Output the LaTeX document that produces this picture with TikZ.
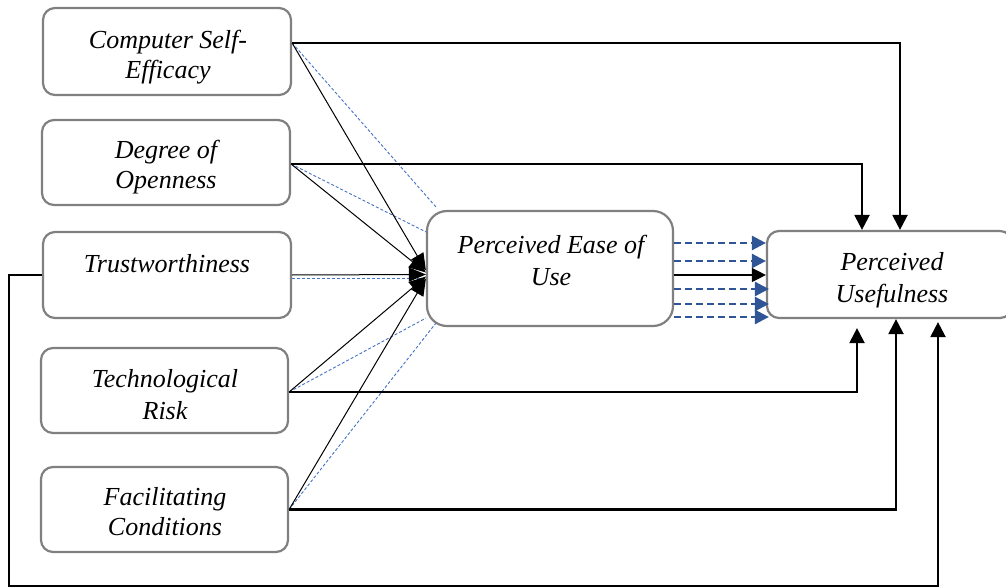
\documentclass[tikz,border=0pt]{standalone}
\usepackage{fontspec}
\setmainfont{Liberation Serif}
\usetikzlibrary{arrows.meta}
\definecolor{boxgray}{HTML}{808080}
\definecolor{thinblue}{HTML}{4472C4}
\definecolor{darkblue}{HTML}{2F5597}
\begin{document}
\begin{tikzpicture}[x=1pt,y=-1pt,
  box/.style={draw=boxgray, line width=2.2pt, rounded corners=12pt, fill=white, inner sep=0pt},
  bigbox/.style={box, rounded corners=20pt},
  txt/.style={font=\fontsize{26}{30}\selectfont\itshape, inner sep=0pt, anchor=base},
  conn/.style={draw=black, line width=2.2pt, -{Triangle[length=15pt,width=15pt]}},
  thin/.style={draw=black, line width=1pt, -{Triangle[length=17pt,width=14pt]}},
  bdash/.style={draw=thinblue, line width=0.9pt, dash pattern=on 3pt off 2pt},
  thick/.style={draw=darkblue, line width=2.6pt, dash pattern=on 7pt off 4pt, -{Triangle[length=14pt,width=14pt]}},
  blackarr/.style={draw=black, line width=1.3pt, -{Triangle[length=14pt,width=14pt]}}
]
\useasboundingbox (0,0) rectangle (1006,588);

% boxes
\node[box, minimum width=248pt, minimum height=87pt] (cse) at (167,51.5) {};
\node[box, minimum width=248pt, minimum height=85pt] (doo) at (166,162.5) {};
\node[box, minimum width=248pt, minimum height=86pt] (tru) at (167,275) {};
\node[box, minimum width=247pt, minimum height=85pt] (tr) at (164.5,390.5) {};
\node[box, minimum width=247pt, minimum height=85pt] (fc) at (164.5,509.5) {};
\node[bigbox, minimum width=246pt, minimum height=115pt] (peou) at (550,268.5) {};
\node[box, minimum width=245pt, minimum height=87pt] (pu) at (889.5,274.5) {};

% texts
\node[txt] (cse1) at (168,49) {Computer Self-};
\node[txt] (cse2) at (168,79) {Efficacy};
\node[txt] (doo1) at (166,159) {Degree of};
\node[txt] (doo2) at (166,189) {Openness};
\node[txt] (tru1) at (167,272) {Trustworthiness};
\node[txt] (tr1) at (165,387) {Technological};
\node[txt] (tr2) at (165,419) {Risk};
\node[txt] (fc1) at (165,505) {Facilitating};
\node[txt] (fc2) at (165,535) {Conditions};
\node[txt] (pe1) at (551,253) {Perceived Ease of};
\node[txt] (pe2) at (551,285) {Use};
\node[txt] (pu1) at (892,270) {Perceived};
\node[txt] (pu2) at (892,302) {Usefulness};

% start points
\coordinate (s1) at ([yshift=8.5pt]cse.east);
\coordinate (s2) at ([yshift=-1.5pt]doo.east);
\coordinate (s3) at (tru.east);
\coordinate (s4) at ([yshift=-1.5pt]tr.east);
\coordinate (s5) at (fc.east);
\coordinate (hub) at ([yshift=-6pt]peou.west);

% thin blue dashed lines to PEoU
\draw[bdash] (s1) -- ([xshift=10pt,yshift=3pt]peou.north west);
\draw[bdash] (s2) -- ([yshift=-22pt]peou.north west);
\draw[bdash] ([yshift=-3pt]s3) -- ([yshift=-9.5pt]peou.west);
\draw[bdash] (s4) -- ([yshift=9pt]peou.south west);
\draw[bdash] (s5) -- ([xshift=10pt,yshift=4pt]peou.south west);

% thin black arrows converging on PEoU
\draw[thin] (s1) -- ([yshift=4pt]hub);
\draw[thin] (s2) -- ([yshift=2pt]hub);
\draw[thin] (s3) -- (hub);
\draw[thin] (s4) -- ([yshift=-2pt]hub);
\draw[thin] (s5) -- ([yshift=-4pt]hub);

% thick connectors to PU
\draw[conn] (s1) -| ([xshift=10.5pt]pu.north);
\draw[conn] (s2) -| ([xshift=-27.5pt]pu.north);
\draw[conn] (s4) -| ([xshift=-32.5pt,yshift=-9pt]pu.south);
\draw[conn] (s5) -| ([xshift=6.5pt]pu.south);
\coordinate (bl) at (9,586);
\draw[conn] (tru.west) -| (bl) -| ([xshift=48.5pt,yshift=-3pt]pu.south);

% PEoU -> PU arrows
\draw[thick] ([yshift=25.5pt]peou.east) -- ([yshift=25.5pt]peou.east -| pu.west);
\draw[thick] ([yshift=7.5pt]peou.east) -- ([yshift=7.5pt]peou.east -| pu.west);
\draw[blackarr] ([yshift=-6.5pt]peou.east) -- ([yshift=-6.5pt]peou.east -| pu.west);
\draw[thick] ([yshift=-20.5pt]peou.east) -- ([yshift=-20.5pt,xshift=3pt]peou.east -| pu.west);
\draw[thick] ([yshift=-35.5pt]peou.east) -- ([yshift=-35.5pt,xshift=3pt]peou.east -| pu.west);
\draw[thick] ([yshift=-48.5pt]peou.east) -- ([yshift=-48.5pt,xshift=3pt]peou.east -| pu.west);
\end{tikzpicture}
\end{document}
